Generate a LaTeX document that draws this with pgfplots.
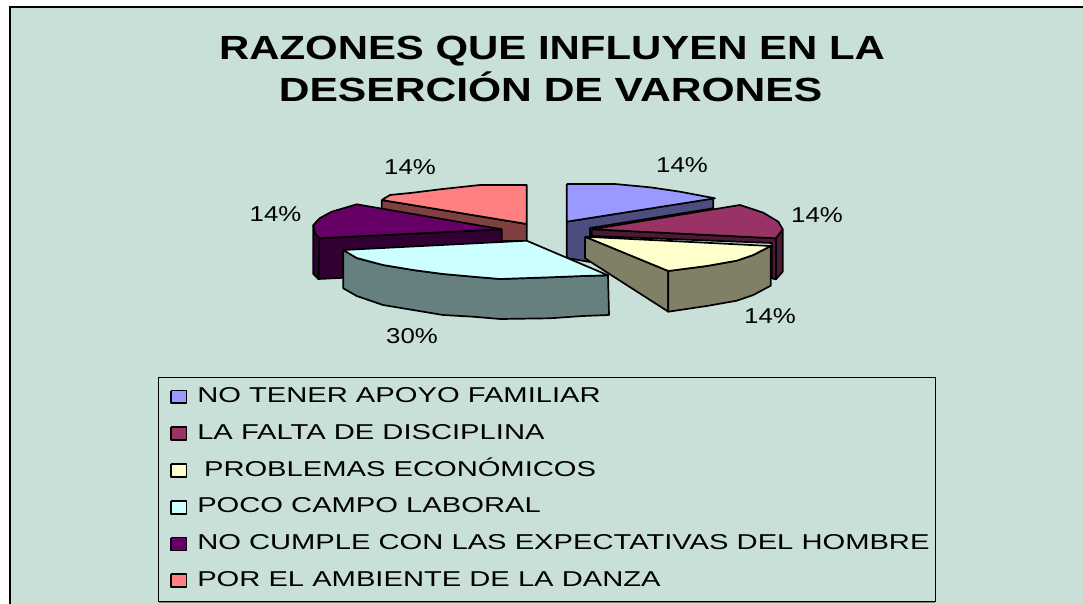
\documentclass[border=0pt]{standalone}
\usepackage{pgfplots}
\pgfplotsset{compat=1.18}
\usepackage{fontspec}
\setmainfont{Liberation Sans}
\definecolor{bgc}{HTML}{C9E0D8}
\definecolor{c1}{HTML}{9999FF}\definecolor{d1}{HTML}{4D4D80}
\definecolor{c2}{HTML}{993366}\definecolor{d2}{HTML}{4D1A33}
\definecolor{c3}{HTML}{FFFFCC}\definecolor{d3}{HTML}{808066}
\definecolor{c4}{HTML}{CCFFFF}\definecolor{d4}{HTML}{668080}
\definecolor{c5}{HTML}{660066}\definecolor{d5}{HTML}{330033}
\definecolor{c6}{HTML}{FF8080}\definecolor{d6}{HTML}{804040}
\pgfplotsset{wedge/.style={fill=#1,draw=black,line width=1.7pt,line join=round,mark=none,sharp plot,forget plot}}
\newcommand{\lab}[3]{\node[font=\fontsize{21.5}{22}\selectfont,text=black,inner sep=0pt,anchor=base,xscale=1.2] at (axis cs:#1,#2) {#3};}
\newcommand{\leg}[2]{\node[font=\fontsize{21.5}{22}\selectfont,text=black,inner sep=0pt,anchor=base west,xscale=1.356] at (axis cs:197,#1) {#2};}
\begin{document}
\begin{tikzpicture}
\begin{axis}[width=1083pt,height=604pt,scale only axis,axis lines=none,
  xmin=0,xmax=1083,ymin=0,ymax=604,y dir=reverse,clip=true]
% background and frame
\addplot[fill=white,draw=none,mark=none,forget plot] coordinates {(0,0)(1083,0)(1083,604)(0,604)(0,0)};
\addplot[fill=bgc,draw=none,mark=none,forget plot] coordinates {(9,7)(1083,7)(1083,604)(9,604)(9,7)};
\addplot[draw=black,line width=2pt,mark=none,forget plot] coordinates {(9.5,604)(9.5,7.5)(1083,7.5)};
% salmon
\addplot[wedge=d6] coordinates {(381.7,200)(526.7,224)(526.7,241)(503,241)(381.7,209)(381.7,200)};
\addplot[wedge=c6] coordinates {(381.7,200)(390,195)(413,192.7)(440,189.3)(480,185)(526.7,185)(526.7,224)(381.7,200)};
% purple
\addplot[wedge=d5] coordinates {(501.7,229.3)(319.3,238.3)(318.3,279)(400,275)(501.7,241)(501.7,229.3)};
\addplot[wedge=d5] coordinates {(313.3,225)(319.3,238.3)(318.3,279)(313.3,274)(313.3,225)};
\addplot[wedge=c5] coordinates {(356.7,204.3)(331.7,211.7)(320,218)(313.3,225)(315,233.3)(319.3,238.3)(501.7,229.3)(356.7,204.3)};
% blue
\addplot[wedge=d1] coordinates {(566.7,221.7)(713.3,198.3)(713.3,208.3)(590,228)(590,262)(566.7,258)(566.7,221.7)};
\addplot[wedge=c1] coordinates {(566.7,184)(615,184)(650,187.3)(680,191.7)(715,198.3)(566.7,221.7)(566.7,184)};
% magenta
\addplot[wedge=d2] coordinates {(776,238.3)(782.7,229.3)(782.7,271.7)(776,279.3)(776,238.3)};
\addplot[wedge=d2] coordinates {(591.7,229.3)(776,238.3)(776,279.3)(771.7,278.3)(771.7,243)(591.7,236)(591.7,229.3)};
\addplot[wedge=c2] coordinates {(591.7,229.3)(740,205)(763.3,212.7)(778.3,221.7)(782.7,229.3)(776,238.3)(591.7,229.3)};
% cyan
\addplot[wedge=d4] coordinates {(343.3,250)(356.7,258)(383,265)(413,270)(443,274)(473,276.7)(500,279)(550,277.3)(583,276)(608,275.3)(609,315)(583,316)(550,318.3)(500,319)(473,316.7)(443,315)(413,310)(383,305)(356.7,296)(343.3,288.3)(343.3,250)};
\addplot[wedge=c4] coordinates {(526.7,240.7)(608,275.3)(583,276)(550,277.3)(500,279)(473,276.7)(443,274)(413,270)(383,265)(356.7,258)(343.3,250)(526.7,240.7)};
% yellow
\addplot[wedge=d3] coordinates {(585,236.7)(668.3,271)(668.3,311.7)(585,258.3)(585,236.7)};
\addplot[wedge=d3] coordinates {(668.3,271)(706.7,266)(736.7,260.7)(753.3,255)(770.7,246)(770.7,285.7)(753.3,295)(736.7,300.7)(706.7,306)(668.3,311.7)(668.3,271)};
\addplot[wedge=c3] coordinates {(585,236.7)(770.7,246)(753.3,255)(736.7,260.7)(706.7,266)(668.3,271)(585,236.7)};
% legend box
\addplot[draw=gray,line width=1pt,mark=none,forget plot] coordinates {(158.5,602)(935,602)};
\addplot[draw=black,line width=0.8pt,mark=none,forget plot] coordinates {(158.5,377)(935,377)(935,601)(158.5,601)(158.5,377)};
\addplot[wedge=c1,line width=1.3pt] coordinates {(171,390.5)(186.5,390.5)(186.5,403)(171,403)(171,390.5)};
\addplot[wedge=c2,line width=1.3pt] coordinates {(171,427)(186.5,427)(186.5,440)(171,440)(171,427)};
\addplot[wedge=c3,line width=1.3pt] coordinates {(171,464)(186.5,464)(186.5,477)(171,477)(171,464)};
\addplot[wedge=c4,line width=1.3pt] coordinates {(171,501)(186.5,501)(186.5,514)(171,514)(171,501)};
\addplot[wedge=c5,line width=1.3pt] coordinates {(171,537.5)(186.5,537.5)(186.5,550.5)(171,550.5)(171,537.5)};
\addplot[wedge=c6,line width=1.3pt] coordinates {(171,574)(186.5,574)(186.5,587)(171,587)(171,574)};
% text
\node[font=\fontsize{33.5}{38}\selectfont\bfseries,inner sep=0pt,anchor=base,xscale=1.251] at (axis cs:552,60) {RAZONES QUE INFLUYEN EN LA};
\node[font=\fontsize{33.5}{38}\selectfont\bfseries,inner sep=0pt,anchor=base,xscale=1.271] at (axis cs:550.5,101.7) {DESERCIÓN DE VARONES};
\lab{682}{173}{14\%}{}
\lab{817}{222}{14\%}{}
\lab{770}{323.5}{14\%}{}
\lab{412}{343}{30\%}{}
\lab{275.5}{221.7}{14\%}{}
\lab{410}{175}{14\%}{}
\leg{402}{NO TENER APOYO FAMILIAR}
\leg{439}{LA FALTA DE DISCIPLINA}
\leg{476}{\hspace{5pt}PROBLEMAS ECONÓMICOS}
\leg{512.7}{POCO CAMPO LABORAL}
\leg{549.3}{NO CUMPLE CON LAS EXPECTATIVAS DEL HOMBRE}
\leg{586}{POR EL AMBIENTE DE LA DANZA}
\end{axis}
\end{tikzpicture}
\end{document}
